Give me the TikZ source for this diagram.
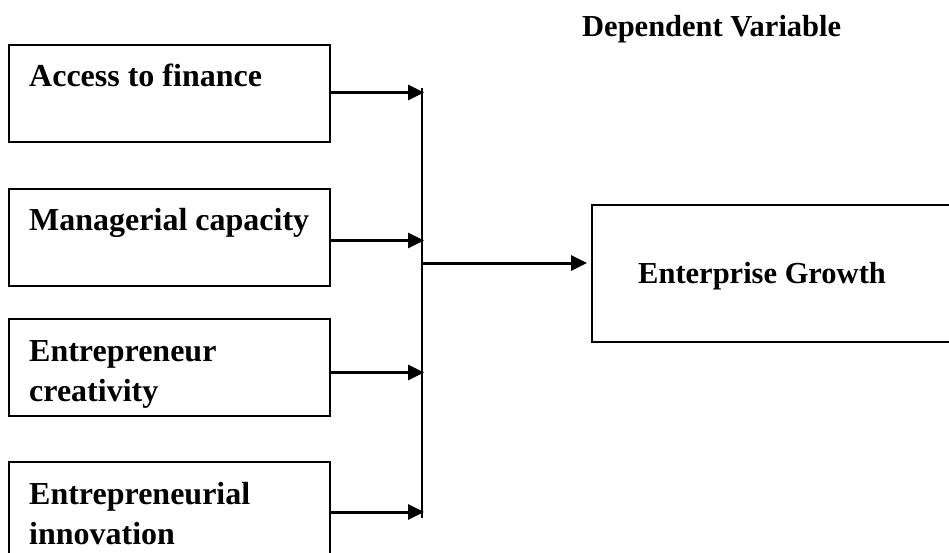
\documentclass[tikz,border=0pt]{standalone}
\usepackage{fontspec}
\setmainfont{Liberation Serif}
\usetikzlibrary{positioning,arrows.meta}
\tikzset{var node/.style={draw,line width=1.5pt,minimum width=321pt,minimum height=97pt,inner sep=0pt,outer sep=0pt},
	var text/.style={anchor=base west,inner sep=0pt,align=left,font=\fontsize{32}{40}\selectfont\bfseries},
	head text/.style={anchor=base west,inner sep=0pt,font=\fontsize{30.5}{36}\selectfont\bfseries},
	feed/.style={line width=3pt,-{Triangle[length=16pt,width=15pt]}},
}

\begin{document}
\begin{tikzpicture}[x=1pt,y=-1pt]
	\clip (0,0) rectangle (949,553);
	\fill[white] (0,0) rectangle (949,553);
	
	\node[var node,anchor=north west] (1) at (9,45) {};
	\node[var node] (2) [below = 47pt of 1] {};
	\node[var node] (3) [below = 33pt of 2] {};
	\node[var node,minimum height=100pt] (4) [below = 46pt of 3] {};
	\node[var node,anchor=north west,minimum width=400pt,minimum height=137pt] (5) at (592,205) {};
	
	% two-line labels sit on their last baseline
	\node[var text] (t1) at ([xshift=20pt,yshift=-42pt]1.north west) {Access to finance};
	\node[var text] (t2) at ([xshift=20pt,yshift=-41pt]2.north west) {Managerial capacity};
	\node[var text] (t3) at ([xshift=20pt,yshift=-82pt]3.north west) {Entrepreneur\\creativity};
	\node[var text] (t4) at ([xshift=20pt,yshift=-82pt]4.north west) {Entrepreneurial\\innovation};
	\node[head text] (t5) at (638,283) {Enterprise Growth};
	\node[head text] (dv) at (582,37) {Dependent Variable};
	
	\coordinate (top) at (422,88);
	\coordinate (bot) at (422,518);
	\coordinate (mid) at (422,263);
	\coordinate (e1) at ([yshift=1pt]1.east);
	\coordinate (e2) at ([yshift=-3pt]2.east);
	\coordinate (e3) at ([yshift=-5pt]3.east);
	\coordinate (e4) at (4.east);
	\draw[line width=1.5pt] (top) -- (bot);
	
	\draw[feed,shorten >=-2pt] (e1) -- (e1 -| top);
	\draw[feed,shorten >=-2pt] (e2) -- (e2 -| top);
	\draw[feed,shorten >=-2pt] (e3) -- (e3 -| top);
	\draw[feed,shorten >=-2pt] (e4) -- (e4 -| top);
	\draw[feed,shorten >=5pt] (mid) -- (5.west |- mid);
\end{tikzpicture}
\end{document}
